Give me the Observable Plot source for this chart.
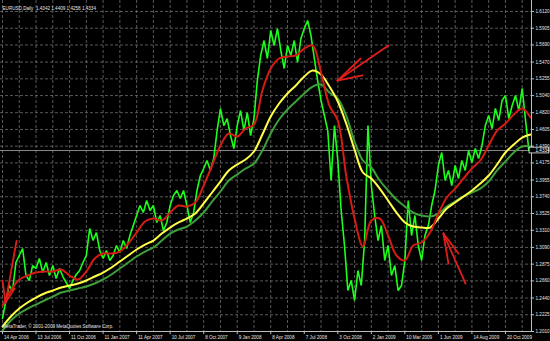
<!DOCTYPE html>
<html><head><meta charset="utf-8">
<script src="https://cdn.jsdelivr.net/npm/d3@7"></script>
<script src="https://cdn.jsdelivr.net/npm/@observablehq/plot@0.6"></script>
<style>
html,body{margin:0;padding:0;background:#000;}
#chart{width:550px;height:341px;overflow:hidden;}
svg{display:block;}
</style></head><body><div id="chart"></div>
<script>
const dateLabels = ["14 Apr 2006","13 Jul 2006","11 Oct 2006","11 Jan 2007","11 Apr 2007","10 Jul 2007","8 Oct 2007","9 Jan 2008","8 Apr 2008","7 Jul 2008","3 Oct 2008","2 Jan 2009","10 Mar 2009","1 Jun 2009","14 Aug 2009","20 Oct 2009"];
const priceTicks = [1.6120,1.5905,1.5690,1.5470,1.5255,1.5040,1.4820,1.4605,1.4390,1.4175,1.3955,1.3740,1.3525,1.3310,1.3090,1.2875,1.2660,1.2440,1.2225,1.2010];
const titleText = "EURUSD,Daily  1.4342 1.4409 1.4258 1.4334";
const footerText = "MetaTrader, \u00a9 2001-2009 MetaQuotes Software Corp.";
const lastClose = 1.4334;

// daily close (sampled, 10 samples per date-label interval)
const closePrices = [
1.2177,1.2408,1.2600,1.2536,1.2896,1.2986,1.3076,1.2729,1.2665,1.2857,
1.2819,1.2947,1.2767,1.2896,1.2729,1.2857,1.2690,1.2819,1.2716,1.2639,
1.2562,1.2665,1.2742,1.2793,1.2896,1.2986,1.3333,1.3178,1.3281,1.3050,
1.2947,1.3050,1.2922,1.2986,1.3114,1.3024,1.3178,1.3076,1.3243,1.3371,
1.3500,1.3628,1.3538,1.3692,1.3564,1.3628,1.3410,1.3500,1.3307,1.3410,
1.3628,1.3756,1.3821,1.3718,1.3821,1.3628,1.3410,1.3538,1.3821,1.4013,
1.4103,1.4206,1.4078,1.4232,1.4591,1.4874,1.4655,1.4745,1.4527,1.4360,
1.4655,1.4848,1.4591,1.4822,1.4527,1.4745,1.5233,1.5555,1.5747,1.5516,
1.5876,1.5683,1.5901,1.5619,1.5388,1.5683,1.5555,1.5747,1.5465,1.5773,
1.5901,1.6004,1.5811,1.5516,1.5233,1.4977,1.4784,1.4591,1.3949,1.4655,
1.4206,1.3564,1.3114,1.2536,1.2665,1.2408,1.2793,1.2600,1.3178,1.4655,
1.3885,1.3500,1.3178,1.3371,1.2922,1.3114,1.2729,1.2857,1.2536,1.2600,
1.2922,1.3692,1.3243,1.3500,1.3114,1.2922,1.3243,1.3371,1.3628,1.3821,
1.4142,1.4309,1.3949,1.4078,1.3885,1.4142,1.3975,1.4206,1.4078,1.4334,
1.4180,1.4360,1.4232,1.4399,1.4655,1.4784,1.4617,1.4874,1.4720,1.4977,
1.5041,1.4745,1.4912,1.5041,1.4848,1.5131,1.4720,1.4334];

// moving averages (4 samples per date-label interval)
const maFast = [
1.2344,1.2536,1.2678,1.2729,1.2767,1.2780,1.2780,1.2806,1.2729,1.2678,
1.2780,1.2947,1.3011,1.3011,1.3037,1.3140,1.3281,1.3422,1.3461,1.3435,
1.3538,1.3628,1.3615,1.3667,1.3885,1.4142,1.4399,1.4553,1.4514,1.4617,
1.4668,1.5105,1.5388,1.5516,1.5542,1.5555,1.5644,1.5683,1.5336,1.4912,
1.4720,1.4013,1.3461,1.3101,1.3435,1.3461,1.3243,1.2986,1.2922,1.3114,
1.3153,1.3281,1.3525,1.3731,1.3846,1.3975,1.4103,1.4206,1.4399,1.4591,
1.4681,1.4797,1.4874,1.4758];
const maMid = [
1.2074,1.2202,1.2305,1.2382,1.2446,1.2498,1.2536,1.2575,1.2600,1.2626,
1.2665,1.2716,1.2767,1.2832,1.2909,1.2986,1.3063,1.3127,1.3178,1.3268,
1.3345,1.3410,1.3461,1.3525,1.3654,1.3795,1.3936,1.4078,1.4155,1.4219,
1.4322,1.4540,1.4771,1.4938,1.5067,1.5169,1.5285,1.5362,1.5311,1.5156,
1.4964,1.4681,1.4347,1.4052,1.3975,1.3846,1.3692,1.3538,1.3410,1.3358,
1.3345,1.3345,1.3461,1.3589,1.3667,1.3744,1.3821,1.3910,1.4013,1.4155,
1.4309,1.4411,1.4501,1.4540];
const maSlow = [
1.2022,1.2151,1.2241,1.2305,1.2356,1.2408,1.2459,1.2511,1.2536,1.2562,
1.2588,1.2626,1.2678,1.2742,1.2819,1.2896,1.2973,1.3037,1.3089,1.3178,
1.3268,1.3320,1.3358,1.3435,1.3538,1.3679,1.3808,1.3949,1.4026,1.4103,
1.4167,1.4334,1.4553,1.4733,1.4861,1.4964,1.5067,1.5156,1.5182,1.5079,
1.5002,1.4784,1.4450,1.4206,1.4116,1.3949,1.3821,1.3705,1.3615,1.3538,
1.3500,1.3487,1.3525,1.3615,1.3679,1.3744,1.3795,1.3846,1.3936,1.4078,
1.4193,1.4309,1.4386,1.4386];

// annotation arrows: [label position from, price from, label position to, price to]
const arrowSegments = [
  [11.51,1.5683, 9.99,1.5233],[9.99,1.5233,10.68,1.5516],[9.99,1.5233,10.74,1.5298],
  [13.81,1.2626,13.15,1.3268],[13.15,1.3268,13.30,1.2883],[13.15,1.3268,13.60,1.3011],
  [0.42,1.3178,0.09,1.2382],[0.09,1.2382,0.00,1.2665],[0.09,1.2382,0.36,1.2562]
];

const priceStep = 0.1, maStep = 0.25;
const priceData = closePrices.map((v,i)=>({t:i*priceStep, v}));
const fastData = maFast.map((v,i)=>({t:i*maStep, v}));
const midData = maMid.map((v,i)=>({t:i*maStep, v}));
const slowData = maSlow.map((v,i)=>({t:i*maStep, v}));

const xDomain = [-0.06, 15.777], yDomain = [1.2010, 1.6261];
const gridX = d3.range(0, 15.51, 0.5);
const font = "Liberation Sans";
const txt = "#e6e6e6";
const fs = 4.6;

const plot = Plot.plot({
  width: 550, height: 341,
  marginLeft: 0, marginRight: 19, marginTop: 0, marginBottom: 10,
  x: {domain: xDomain, axis: null},
  y: {domain: yDomain, axis: null},
  style: {background: "#000", color: txt, fontFamily: font},
  marks: [
    Plot.ruleY(priceTicks, {stroke: "#6e6e6e", strokeDasharray: "3,2", strokeWidth: 0.8}),
    Plot.ruleX(gridX, {stroke: "#6e6e6e", strokeDasharray: "3,2", strokeWidth: 0.8}),
    Plot.ruleY([lastClose], {stroke: "#9a9a9a", strokeWidth: 0.9}),
    Plot.line(priceData, {x: "t", y: "v", stroke: "#1cff1c", strokeWidth: 1.6, strokeLinejoin: "miter"}),
    Plot.line(slowData, {x: "t", y: "v", stroke: "#3d9f3a", strokeWidth: 2, curve: "catmull-rom"}),
    Plot.line(midData, {x: "t", y: "v", stroke: "#ffff48", strokeWidth: 2, curve: "catmull-rom"}),
    Plot.line(fastData, {x: "t", y: "v", stroke: "#d41c14", strokeWidth: 2, curve: "catmull-rom"}),
    Plot.link(arrowSegments, {x1: d=>d[0], y1: d=>d[1], x2: d=>d[2], y2: d=>d[3], stroke: "#e01e1a", strokeWidth: 1.8, strokeLinecap: "round"}),
    Plot.ruleX([xDomain[1]], {stroke: "#bdbdbd", strokeWidth: 1}),
    Plot.ruleY([yDomain[0]], {stroke: "#bdbdbd", strokeWidth: 1}),
    Plot.ruleY(priceTicks, {x1: xDomain[1], x2: xDomain[1] + 0.09, stroke: "#bdbdbd"}),
    Plot.ruleX(d3.range(dateLabels.length), {y1: yDomain[0], y2: yDomain[0] - 0.004, stroke: "#bdbdbd"}),
    Plot.text(priceTicks, {x: xDomain[1], y: d=>d, text: d=>d.toFixed(4), textAnchor: "start", dx: 4, fill: txt, fontSize: fs, fontFamily: font}),
    Plot.text(dateLabels, {x: (d,i)=>i, y: yDomain[0], text: d=>d, textAnchor: "start", dx: 1.5, dy: 6, fill: txt, fontSize: fs, fontFamily: font}),
    Plot.rect([lastClose], {x1: 15.72, x2: 16.31, y1: d=>d-0.0037, y2: d=>d+0.0037, fill: "#000", stroke: "#f0f0f0", strokeWidth: 0.8}),
    Plot.text([lastClose], {x: xDomain[1], y: d=>d, text: d=>d.toFixed(4), textAnchor: "start", dx: 4, fill: "#ffffff", fontSize: fs, fontFamily: font}),
    Plot.text([titleText], {frameAnchor: "top-left", dx: 2, dy: 6, textAnchor: "start", fill: txt, fontSize: fs, fontFamily: font}),
    Plot.text([footerText], {frameAnchor: "bottom-left", dx: 2, dy: -4, textAnchor: "start", fill: txt, fontSize: fs, fontFamily: font})
  ]
});
document.getElementById("chart").appendChild(plot);
</script>
</body></html>
